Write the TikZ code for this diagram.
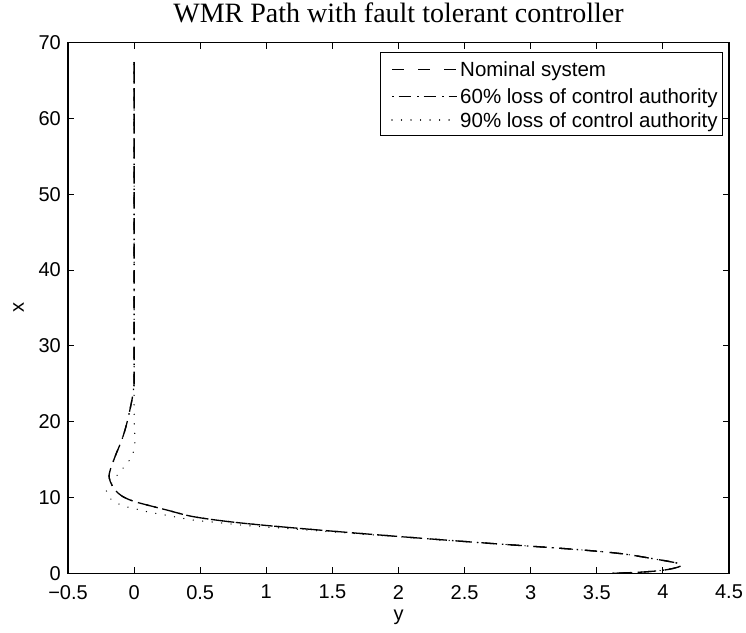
\documentclass[tikz,border=0pt]{standalone}
\usepackage{fontspec}
\setmainfont{Liberation Serif}
\newfontfamily\arialf{Liberation Sans}
\begin{document}
\begin{tikzpicture}[x=1pt,y=1pt,
  ticklab/.style={font=\arialf\fontsize{20}{24}\selectfont, inner sep=0pt},
  leglab/.style={font=\arialf\fontsize{20.5}{24}\selectfont, anchor=base west, inner sep=0pt},
  nomline/.style={line width=1.3pt, dash pattern=on 12pt off 14pt},
  sixline/.style={line width=1.3pt, dash pattern=on 1.5pt off 5pt on 12pt off 6.5pt},
  ninline/.style={line width=1.4pt, dash pattern=on 0.01pt off 9.5pt, line cap=round},
  axisline/.style={line width=1.2pt},
  tickline/.style={line width=1pt}]
\useasboundingbox (0,0) rectangle (746,632);
\node[font=\fontsize{28}{32}\selectfont, anchor=base, inner sep=0pt] (title) at (398.5,609) {WMR Path with fault tolerant controller};
\begin{scope}[shift={(134.1pt,58.7pt)}, x=132.2pt, y=7.58pt]
  % curves
  \draw[nomline] plot[smooth, tension=0.55] coordinates {
    (3.62,0) (3.85,0.17) (4.02,0.45) (4.12,0.85) (4.14,1.15) (4.08,1.45) (3.95,1.85)
    (3.68,2.6) (3.3,3.2) (2.62,4.04) (1.86,5.05) (1.155,6.07) (0.75,6.75) (0.449,7.47)
    (0.247,8.35) (0.07,9.14) (-0.017,9.58) (-0.093,10.2) (-0.144,11.0) (-0.18,12.1)
    (-0.187,13.2) (-0.144,15.4) (-0.093,17.6) (-0.055,19.8) (-0.015,23) (0,25)} -- (0,67.5);
  \draw[sixline] plot[smooth, tension=0.55] coordinates {
    (3.62,0) (3.85,0.17) (4.02,0.45) (4.12,0.85) (4.14,1.15) (4.08,1.45) (3.95,1.85)
    (3.68,2.6) (3.3,3.2) (2.62,4.04) (1.86,5.05) (1.155,6.07) (0.75,6.75) (0.449,7.47)
    (0.247,8.35) (0.07,9.14) (-0.017,9.58) (-0.093,10.2) (-0.144,11.0) (-0.18,12.1)
    (-0.187,13.2) (-0.144,15.4) (-0.093,17.6) (-0.055,19.8) (-0.015,23) (0,25)} -- (0,67.5);
  \draw[ninline] plot[smooth, tension=0.55] coordinates {
    (3.62,0) (3.85,0.17) (4.02,0.45) (4.12,0.85) (4.14,1.15) (4.08,1.45) (3.95,1.85)
    (3.68,2.6) (3.3,3.2) (2.62,4.04) (1.86,5.0) (1.205,5.85) (0.85,6.3) (0.62,6.72)
    (0.436,7.05) (0.234,7.69) (0.096,8.13) (0.025,8.44) (-0.04,8.7) (-0.11,9.1)
    (-0.17,9.67) (-0.21,10.8) (-0.17,11.9) (-0.138,12.7) (-0.096,13.6) (-0.048,14.6)
    (-0.013,15.6) (0.004,16.8) (0.007,18) (0.002,19.3) (0,22)} -- (0,67.5);
  % axes box
  \draw[axisline] (-0.5,0) rectangle (4.5,70);
  % ticks and labels
  \foreach \v/\t [count=\i] in {-0.5/{−0.5},0/0,0.5/0.5,1/1,1.5/1.5,2/2,2.5/2.5,3/3,3.5/3.5,4/4,4.5/4.5} {
    \draw[tickline] (\v,0) -- ++(0,6pt);
    \draw[tickline] (\v,70) -- ++(0,-6pt);
    \node[ticklab, anchor=north] (xt\i) at ([yshift=-11.7pt]\v,0) {\t};
  }
  \foreach \w [count=\i] in {0,10,...,70} {
    \draw[tickline] (-0.5,\w) -- ++(6pt,0);
    \draw[tickline] (4.5,\w) -- ++(-6pt,0);
    \node[ticklab, anchor=east] (yt\i) at ([xshift=-7pt]-0.5,\w) {\w};
  }
\end{scope}
% axis labels
\node[ticklab, rotate=90] (xlab) at (18.7,324) {x};
\node[ticklab, anchor=base] (ylab) at (398.5,12) {y};
% legend
\draw[fill=white, line width=1pt] (380,579) rectangle (722,496);
\coordinate (la1) at (392,562.5);
\coordinate (lb1) at (457,562.5);
\coordinate (la2) at (392,535.2);
\coordinate (lb2) at (457,535.2);
\coordinate (la3) at (392,511.9);
\coordinate (lb3) at (457,511.9);
\draw[nomline] (la1) -- (lb1);
\draw[sixline] (la2) -- (lb2);
\draw[ninline] (la3) -- (lb3);
\node[leglab] (leg1) at (460,555.3) {Nominal system};
\node[leglab] (leg2) at (460,528.0) {60\% loss of control authority};
\node[leglab] (leg3) at (460,504.7) {90\% loss of control authority};
\end{tikzpicture}
\end{document}
